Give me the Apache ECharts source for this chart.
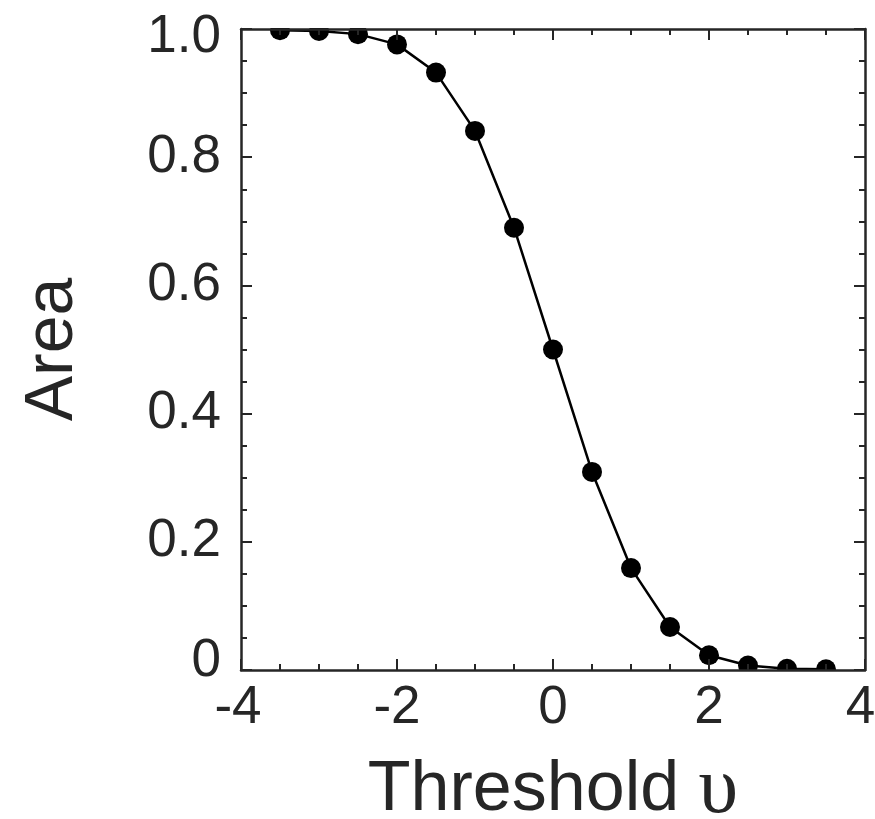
<!DOCTYPE html>
<html>
<head>
<meta charset="utf-8">
<script src="https://cdn.jsdelivr.net/npm/echarts@6/dist/echarts.min.js"></script>
<style>
html,body{margin:0;padding:0;background:#fff;}
#chart{width:875px;height:819px;}
</style>
</head>
<body>
<div id="chart"></div>
<script>
// ---- data ----
const thresholds = [-3.5, -3, -2.5, -2, -1.5, -1, -0.5, 0, 0.5, 1, 1.5, 2, 2.5, 3, 3.5];
const areaValues = [0.998, 0.997, 0.992, 0.976, 0.932, 0.841, 0.690, 0.500, 0.309, 0.159, 0.067, 0.023, 0.007, 0.002, 0.001];
const xTickLabels = ['-4', '-2', '0', '2', '4'];
const yTickLabels = ['0', '0.2', '0.4', '0.6', '0.8', '1.0'];
const xAxisName = 'Threshold';
const xAxisSymbol = 'υ';
const yAxisName = 'Area';

const INK = '#262626';
const FONT = "'Liberation Sans', Arial, Helvetica, sans-serif";

const chart = echarts.init(document.getElementById('chart'), null, {renderer: 'canvas'});
const W = chart.getWidth();
const H = chart.getHeight();
const PLOT_L = 241, PLOT_R = 865, PLOT_T = 29, PLOT_B = 670;

const points = thresholds.map((x, i) => [x, areaValues[i]]);

function baseAxis(extra) {
  return Object.assign({
    type: 'value',
    z: 10,
    splitLine: {show: false},
    minorSplitLine: {show: false},
    axisLine: {show: true, onZero: false, lineStyle: {color: INK, width: 2.5}},
    axisTick: {show: true, inside: true, length: 11, lineStyle: {color: INK, width: 2}},
    minorTick: {show: true, splitNumber: 4, length: 6, lineStyle: {color: INK, width: 2}}
  }, extra);
}

const option = {
  backgroundColor: '#fff',
  animation: false,
  grid: {
    left: PLOT_L, right: W - PLOT_R, top: PLOT_T, bottom: H - PLOT_B,
    containLabel: false, outerBoundsMode: 'none'
  },
  graphic: [
    {type: 'rect', z: 5, silent: true, shape: {x: 0, y: 0, width: W, height: PLOT_T - 1}, style: {fill: '#fff'}},
    {type: 'rect', z: 5, silent: true, shape: {x: 0, y: PLOT_B + 1, width: W, height: H - PLOT_B - 1}, style: {fill: '#fff'}}
  ],
  xAxis: [
    baseAxis({
      position: 'bottom', min: -4, max: 4, interval: 2,
      name: '{a|' + xAxisName + ' }{b|' + xAxisSymbol + '}',
      nameLocation: 'middle', nameGap: 81,
      nameTextStyle: {
        rich: {
          a: {fontSize: 70, fontFamily: FONT, color: INK},
          b: {fontSize: 80, fontFamily: "'Liberation Serif', 'DejaVu Serif', serif", color: INK}
        }
      },
      axisLabel: {
        show: true, margin: 12, fontSize: 53, fontFamily: FONT, color: INK,
        formatter: function (v) {
          const idx = Math.round((v + 4) / 2);
          const s = xTickLabels[idx];
          if (idx === xTickLabels.length - 1) return '{hi|' + s + '}';
          if (idx === 0) return '{lo|' + s + '}';
          return s;
        },
        rich: {
          lo: {fontSize: 53, fontFamily: FONT, color: INK, padding: [0, 6, 0, 0]},
          hi: {fontSize: 53, fontFamily: FONT, color: INK, padding: [0, 9, 0, 0]}
        }
      }
    }),
    baseAxis({
      position: 'top', min: -4, max: 4, interval: 2,
      axisLabel: {show: false}
    })
  ],
  yAxis: [
    baseAxis({
      position: 'left', min: 0, max: 1, interval: 0.2,
      name: yAxisName, nameLocation: 'middle', nameGap: 154, nameRotate: 90,
      nameTextStyle: {fontSize: 68, fontFamily: FONT, color: INK},
      axisLabel: {
        show: true, margin: 20, fontSize: 53, fontFamily: FONT, color: INK,
        formatter: function (v) {
          const idx = Math.round(v / 0.2);
          const s = yTickLabels[idx];
          if (idx === 0) return '{lo|' + s + '}';
          if (idx === yTickLabels.length - 1) return '{hi|' + s + '}';
          return s;
        },
        rich: {
          lo: {fontSize: 53, fontFamily: FONT, color: INK, padding: [0, 0, 18, 0]},
          hi: {fontSize: 53, fontFamily: FONT, color: INK, padding: [16, 0, 0, 0]}
        }
      }
    }),
    baseAxis({
      position: 'right', min: 0, max: 1, interval: 0.2,
      axisLabel: {show: false}
    })
  ],
  series: [
    {
      type: 'line',
      data: points,
      xAxisIndex: 0,
      yAxisIndex: 0,
      z: 2,
      clip: false,
      smooth: false,
      symbol: 'circle',
      symbolSize: 20,
      showAllSymbol: true,
      lineStyle: {color: '#000', width: 2.5},
      itemStyle: {color: '#000', borderWidth: 0}
    }
  ]
};

chart.setOption(option);
</script>
</body>
</html>
